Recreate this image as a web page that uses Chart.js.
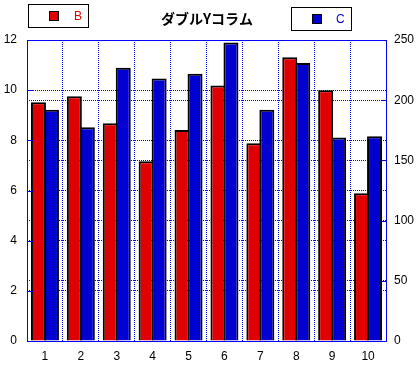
<!DOCTYPE html>
<html>
<head>
<meta charset="utf-8">
<script src="https://cdn.jsdelivr.net/npm/chart.js@4"></script>
<style>
html,body{margin:0;padding:0;background:#fff;}
#wrap{width:418px;height:367px;position:relative;}
</style>
</head>
<body>
<div id="wrap"><canvas id="c" width="418" height="367"></canvas></div>
<script>
const titleText = 'ダブルYコラム';
const categories = ['1','2','3','4','5','6','7','8','9','10'];
const seriesBName = 'B';
const seriesB = [9.52, 9.76, 8.68, 7.17, 8.41, 10.19, 7.88, 11.31, 10.0, 5.89];
const seriesCName = 'C';
const seriesC = [192, 177.5, 227, 218, 222, 248, 192, 231, 169, 170];
const leftTicks = [0, 2, 4, 6, 8, 10, 12];
const rightTicks = [0, 50, 100, 150, 200, 250];

const RED = '#E00000';
const BLUE = '#0000D0';
const LINE = '#0000FF';
const FONT = '"Liberation Sans", Arial, sans-serif';

const overlay = {
  id: 'overlay',
  afterDatasetsDraw(chart) {
    const ctx = chart.ctx;
    const a = chart.chartArea;
    ctx.save();
    ctx.strokeStyle = LINE;
    ctx.lineWidth = 1;
    ctx.setLineDash([]);
    ctx.beginPath();
    ctx.rect(Math.round(a.left) + 0.5, Math.round(a.top) + 0.5,
             Math.round(a.right) - Math.round(a.left), Math.round(a.bottom) - Math.round(a.top));
    ctx.stroke();
    // inner ticks
    const y = chart.scales.y, y2 = chart.scales.y2;
    ctx.beginPath();
    leftTicks.forEach(v => {
      const py = Math.round(y.getPixelForValue(v)) + 0.5;
      ctx.moveTo(Math.round(a.left), py);
      ctx.lineTo(Math.round(a.left) + 7, py);
    });
    rightTicks.forEach(v => {
      const py = Math.round(y2.getPixelForValue(v)) + 0.5;
      ctx.moveTo(Math.round(a.right) + 1, py);
      ctx.lineTo(Math.round(a.right) - 4, py);
    });
    ctx.stroke();
    ctx.restore();
  },
  afterDraw(chart) {
    const ctx = chart.ctx;
    ctx.save();
    // title
    ctx.fillStyle = '#000';
    ctx.font = 'bold 14px "Noto Sans CJK JP", sans-serif';
    ctx.textAlign = 'center';
    ctx.textBaseline = 'middle';
    ctx.fillText(titleText, 207, 19);
    // legend boxes
    const drawBox = (bx, by, bw, bh, sx, sy, color, label, tx, ty) => {
      ctx.fillStyle = '#fff';
      ctx.fillRect(bx, by, bw, bh);
      ctx.strokeStyle = '#000';
      ctx.lineWidth = 1;
      ctx.strokeRect(bx + 0.5, by + 0.5, bw, bh);
      ctx.fillStyle = color;
      ctx.fillRect(sx, sy, 10, 10);
      ctx.strokeRect(sx + 0.5, sy + 0.5, 9, 9);
      ctx.fillStyle = color;
      ctx.font = '12px ' + FONT;
      ctx.textAlign = 'left';
      ctx.textBaseline = 'middle';
      ctx.fillText(label, tx, ty);
    };
    drawBox(28, 4, 60, 23, 49, 11, RED, seriesBName, 74, 16.5);
    drawBox(291, 7, 60, 23, 312, 14, BLUE, seriesCName, 336, 19.5);
    ctx.restore();
  }
};

new Chart(document.getElementById('c'), {
  type: 'bar',
  data: {
    labels: categories,
    datasets: [
      { label: seriesBName, data: seriesB, yAxisID: 'y', backgroundColor: RED,
        borderColor: '#000', borderWidth: 2, borderSkipped: 'start',
        categoryPercentage: 0.724, barPercentage: 1.154 },
      { label: seriesCName, data: seriesC, yAxisID: 'y2', backgroundColor: BLUE,
        borderColor: '#000', borderWidth: 2, borderSkipped: 'start',
        categoryPercentage: 0.724, barPercentage: 1.154 }
    ]
  },
  options: {
    responsive: false,
    animation: false,
    events: [],
    layout: { padding: { top: 40, left: 0, right: 0, bottom: 0 } },
    plugins: { legend: { display: false }, title: { display: false }, tooltip: { enabled: false } },
    scales: {
      x: {
        offset: true,
        grid: { offset: true, color: LINE, lineWidth: 1, drawTicks: false },
        border: { display: false, dash: [1, 1] },
        ticks: { color: '#000', font: { family: FONT, size: 12 }, padding: 8, maxRotation: 0 },
        afterFit(s) { s.height = 26; }
      },
      y: {
        position: 'left',
        min: 0, max: 12,
        afterBuildTicks(s) { s.ticks = leftTicks.map(v => ({ value: v })); },
        grid: { color: LINE, lineWidth: 1, drawTicks: false },
        border: { display: false, dash: [1, 1] },
        ticks: { color: '#000', font: { family: FONT, size: 12 }, padding: 10 },
        afterFit(s) { s.width = 27; }
      },
      y2: {
        position: 'right',
        min: 0, max: 250,
        afterBuildTicks(s) { s.ticks = rightTicks.map(v => ({ value: v })); },
        grid: { color: LINE, lineWidth: 1, drawTicks: false, drawOnChartArea: true },
        border: { display: false, dash: [1, 1] },
        ticks: { color: '#000', font: { family: FONT, size: 12 }, padding: 8 },
        afterFit(s) { s.width = 32; }
      }
    }
  },
  plugins: [overlay]
});
</script>
</body>
</html>
